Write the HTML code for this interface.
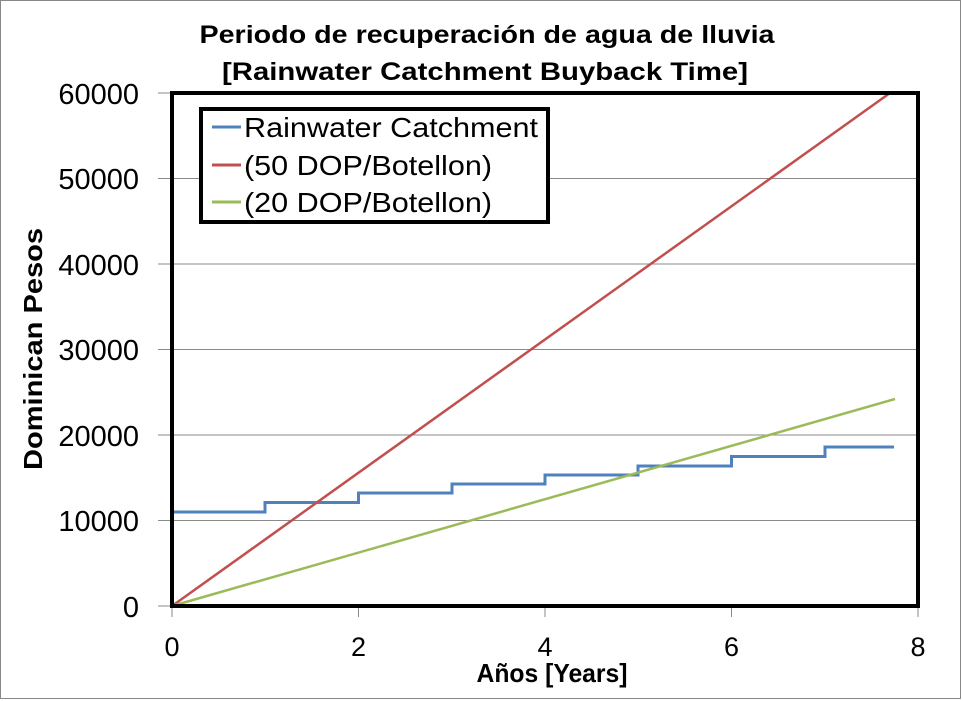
<!DOCTYPE html><html><head><style>body{margin:0;background:#fff}svg{display:block}</style></head><body>
<svg width="963" height="701" xmlns="http://www.w3.org/2000/svg" font-family="Liberation Sans, sans-serif">
<rect x="0.5" y="0.5" width="960" height="698" fill="#fff" stroke="#888"/>
<text x="487" y="43" font-size="25" font-weight="bold" text-anchor="middle" textLength="575" lengthAdjust="spacingAndGlyphs">Periodo de recuperación de agua de lluvia</text>
<text x="485" y="80" font-size="25" font-weight="bold" text-anchor="middle" textLength="526" lengthAdjust="spacingAndGlyphs">[Rainwater Catchment Buyback Time]</text>
<g stroke="#8a8a8a" stroke-width="1">
<line x1="158" y1="93" x2="918" y2="93"/><line x1="158" y1="178.5" x2="918" y2="178.5"/><line x1="158" y1="264" x2="918" y2="264"/><line x1="158" y1="349.5" x2="918" y2="349.5"/><line x1="158" y1="435" x2="918" y2="435"/><line x1="158" y1="520.5" x2="918" y2="520.5"/><line x1="158" y1="606" x2="172" y2="606"/>
<line x1="172" y1="606" x2="172" y2="617"/><line x1="358.5" y1="606" x2="358.5" y2="617"/><line x1="545" y1="606" x2="545" y2="617"/><line x1="731.5" y1="606" x2="731.5" y2="617"/><line x1="918" y1="606" x2="918" y2="617"/>
</g>
<polyline fill="none" stroke="#4f81bd" stroke-width="3" points="172,512 265,512 265,502.5 358.5,502.5 358.5,493 452,493 452,484 545,484 545,475 638,475 638,466 731.5,466 731.5,456.5 825,456.5 825,447 894,447"/>
<line x1="172" y1="606" x2="890" y2="93" stroke="#c0504d" stroke-width="2.5"/>
<line x1="172" y1="606" x2="895" y2="399" stroke="#9bbb59" stroke-width="2.5"/>
<rect x="172" y="93" width="746" height="513" fill="none" stroke="#000" stroke-width="4"/>
<rect x="201" y="109" width="347" height="113" fill="#fff" stroke="#000" stroke-width="4"/>
<g stroke-width="3"><line x1="212" y1="127" x2="241" y2="127" stroke="#4f81bd"/><line x1="212" y1="165" x2="241" y2="165" stroke="#c0504d"/><line x1="212" y1="202" x2="241" y2="202" stroke="#9bbb59"/></g>
<g font-size="28"><text x="244" y="137" textLength="294" lengthAdjust="spacingAndGlyphs">Rainwater Catchment</text><text x="244" y="175" textLength="248" lengthAdjust="spacingAndGlyphs">(50 DOP/Botellon)</text><text x="244" y="212" textLength="248" lengthAdjust="spacingAndGlyphs">(20 DOP/Botellon)</text></g>
<g font-size="29" text-anchor="end"><text x="139" y="104">60000</text><text x="139" y="189">50000</text><text x="139" y="275">40000</text><text x="139" y="360">30000</text><text x="139" y="446">20000</text><text x="139" y="531">10000</text><text x="139" y="617">0</text></g>
<g font-size="27" text-anchor="middle"><text x="172" y="656">0</text><text x="358.5" y="656">2</text><text x="545" y="656">4</text><text x="731.5" y="656">6</text><text x="918" y="656">8</text></g>
<text x="552" y="682" font-size="26" font-weight="bold" text-anchor="middle" textLength="151" lengthAdjust="spacingAndGlyphs">Años [Years]</text>
<text transform="translate(42,349) rotate(-90)" font-size="26" font-weight="bold" text-anchor="middle" textLength="242" lengthAdjust="spacingAndGlyphs">Dominican Pesos</text>
</svg></body></html>
